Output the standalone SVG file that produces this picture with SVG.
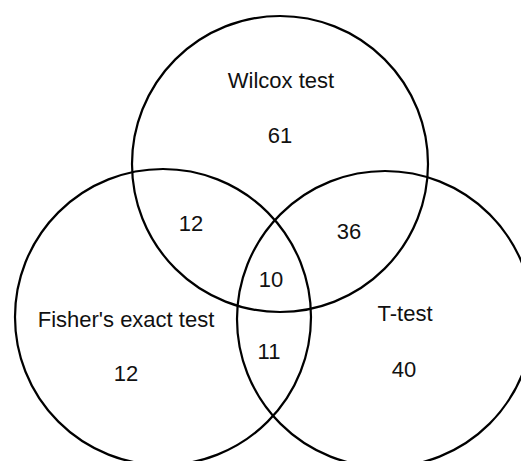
<svg xmlns="http://www.w3.org/2000/svg" width="521" height="461" viewBox="0 0 521 461">
<style>
.c{fill:none;stroke:#000;stroke-width:2.2}
.t{font-family:"Liberation Sans",Arial,sans-serif;font-size:22px;fill:#111;text-anchor:middle}
</style>
<rect width="521" height="461" fill="#fff"/>
<g id="wilcox">
<circle class="c" cx="280" cy="164" r="148"/>
<text class="t" x="281" y="88">Wilcox test</text>
<text class="t" x="280" y="143">61</text>
</g>
<g id="fisher">
<circle class="c" cx="163" cy="317" r="148"/>
<text class="t" x="126" y="327">Fisher's exact test</text>
<text class="t" x="126" y="381">12</text>
</g>
<g id="ttest">
<circle class="c" cx="385" cy="319" r="148"/>
<text class="t" x="405" y="321">T-test</text>
<text class="t" x="404" y="377">40</text>
</g>
<g id="overlaps">
<text class="t" x="191" y="231">12</text>
<text class="t" x="349" y="239">36</text>
<text class="t" x="271" y="287">10</text>
<text class="t" x="269" y="359">11</text>
</g>
<g id="connectors"/>
</svg>
